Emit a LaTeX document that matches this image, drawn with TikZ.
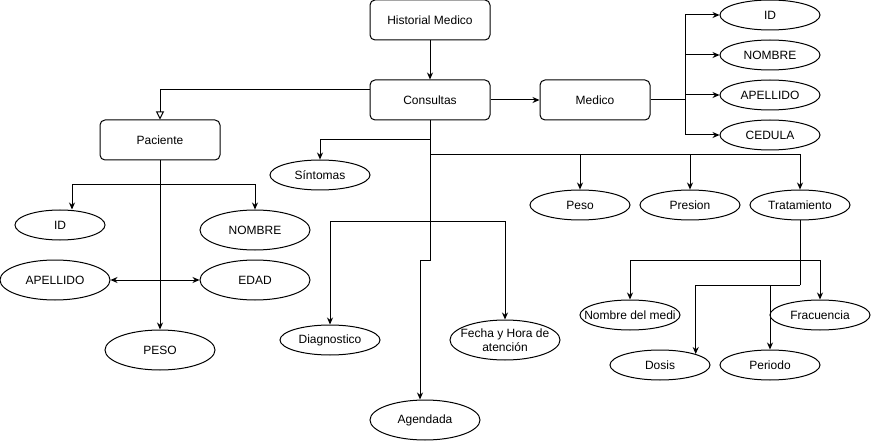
\documentclass[tikz,border=0pt]{standalone}
\usepackage{fontspec}
\setmainfont{Liberation Sans}
\usepackage{tikz}
\usetikzlibrary{arrows.meta,shapes.geometric}
\tikzset{>={Stealth[length=7pt,width=6pt]},
    box/.style={draw, rounded corners=5pt, minimum width=120pt, minimum height=40pt, inner sep=0pt},
    attr/.style={draw, ellipse, minimum width=100pt, minimum height=30pt, inner xsep=-12pt, inner ysep=0pt, align=center},
    bigattr/.style={attr, minimum width=110pt, minimum height=40pt},
    hollow/.style={-{Triangle[open,length=8pt,width=8pt]}}}

\begin{document}
\begin{tikzpicture}[x=1pt, y=-1pt, line width=1pt, font=\fontsize{12}{14}\selectfont]
    \useasboundingbox (0,0) rectangle (871,441);
    \node[box] (hist) at (430,20) {Historial Medico};
    \node[box] (cons) at (430,100) {Consultas};
    \node[box, minimum width=110pt] (med) at (595,100) {Medico};
    \node[box] (pac) at (160,140) {Paciente};
    % medico
    \foreach \n/\t/\y in {mid/ID/15, mnom/NOMBRE/55, mape/APELLIDO/95, mced/CEDULA/135}
        \node[attr] (\n) at (770,\y) {\t};
    % paciente
    \node[attr, minimum width=90pt] (pid) at (60,225) {ID};
    \node[bigattr] (pnom) at (255,230) {NOMBRE};
    \node[bigattr] (pape) at (55,280) {APELLIDO};
    \node[bigattr] (pedad) at (255,280) {EDAD};
    \node[bigattr] (ppeso) at (160,350) {PESO};
    % consultas
    \node[attr] (sint) at (320,175) {Síntomas};
    \node[attr] (diag) at (330,340) {Diagnostico};
    \node[bigattr] (fecha) at (505,340) {Fecha y Hora de\\atención};
    \node[bigattr] (agen) at (425,420) {Agendada};
    \node[attr] (peso) at (580,205) {Peso};
    \node[attr] (pres) at (690,205) {Presion};
    \node[attr] (trat) at (800,205) {Tratamiento};
    % tratamiento
    \node[attr] (nmed) at (630,315) {Nombre del medi};
    \node[attr] (frac) at (820,315) {Fracuencia};
    \node[attr] (dosis) at (660,365) {Dosis};
    \node[attr] (peri) at (770,365) {Periodo};

    \coordinate (mbus) at (685,100);
    \coordinate (pbus) at (160,185);
    \coordinate (c1) at (430,140);
    \coordinate (c2) at (430,155);
    \coordinate (c3) at (430,222);
    \coordinate (c4) at (430,260);
    \coordinate (t1) at (800,260);
    \coordinate (t2) at (800,285);

    \draw[->] (hist) -- (cons);
    \draw[->] (cons) -- (med);
    \draw[hollow] ([yshift=10pt]cons.west) -| (pac.north);
    \draw (med.east) -- (mbus);
    \foreach \n in {mid,mnom,mape,mced}
        \draw[->] (mbus) |- (\n.west);

    \draw[->] (pac.south) -- (ppeso.north);
    \draw[->] (pbus) -| ([xshift=12pt]pid.north);
    \draw[->] (pbus) -| (pnom.north);
    \draw[<->] (pape.east) -- (pedad.west);

    \draw[->] (cons.south) -- (c4) -| ([xshift=-5pt]agen.north);
    \draw[->] (c1) -| (sint.north);
    \draw[->] (c2) -| (peso.north);
    \draw[->] (c2) -| (pres.north);
    \draw[->] (c2) -| (trat.north);
    \draw[->] (c3) -| (diag.north);
    \draw[->] (c3) -| (fecha.north);

    \draw (trat.south) -- (t2);
    \draw[->] (t1) -| (nmed.north);
    \draw[->] (t1) -| (frac.north);
    \draw[->] (t2) -| (dosis.north east);
    \draw[->] (t2) -| (peri.north);
\end{tikzpicture}
\end{document}
